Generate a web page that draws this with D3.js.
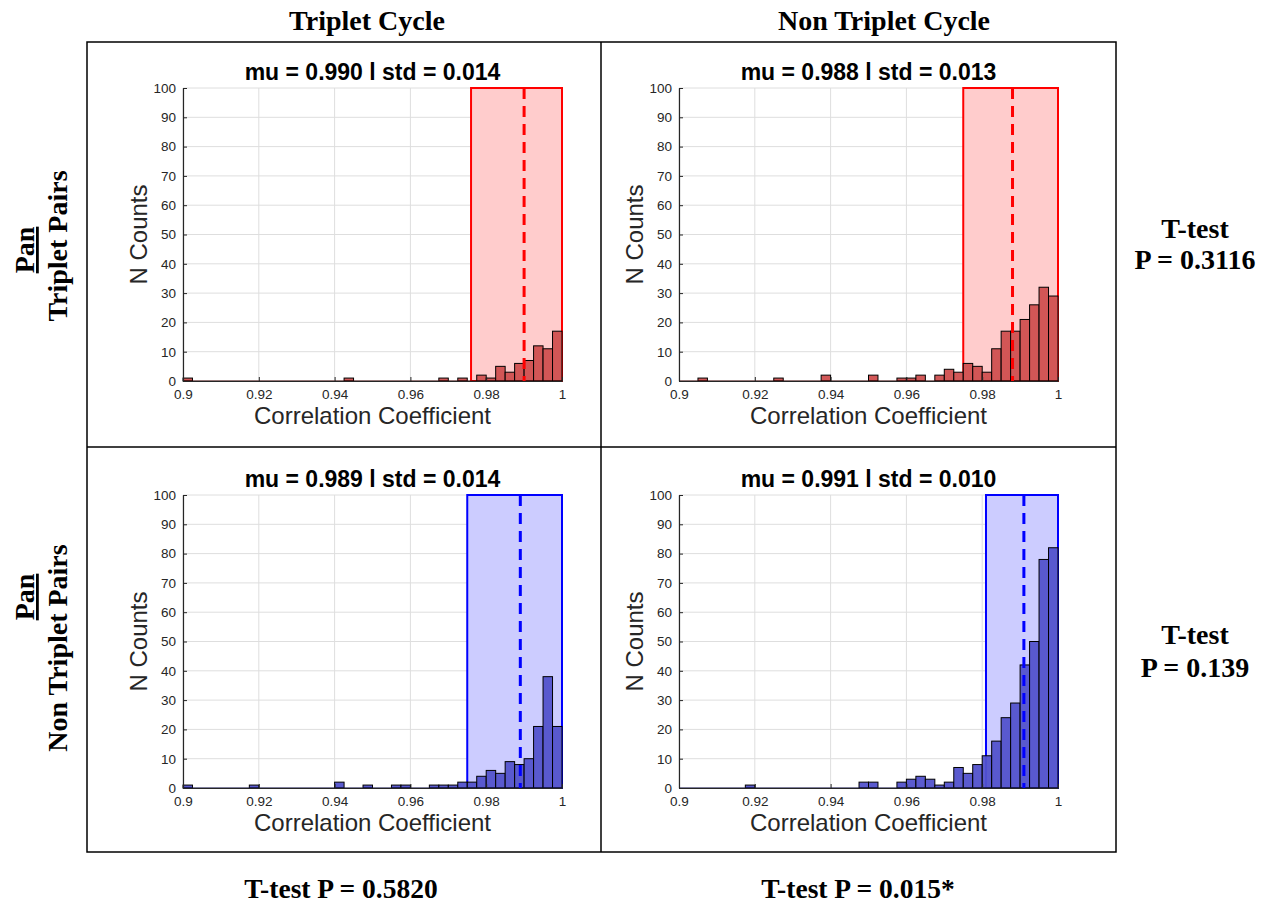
<!DOCTYPE html>
<html><head><meta charset="utf-8">
<script src="https://cdn.jsdelivr.net/npm/d3@7"></script>
<style>body{margin:0;background:#fff}svg{display:block}</style>
</head><body>
<script>
// ---- data ----
const binStart = 0.9, binWidth = 0.0025;
const countsTripletCycleTripletPairs = [1,0,0,0,0,0,0,0,0,0, 0,0,0,0,0,0,0,1,0,0, 0,0,0,0,0,0,0,1,0,1, 0,2,1,5,3,6,7,12,11,17];
const countsNonTripletCycleTripletPairs = [0,0,1,0,0,0,0,0,0,0, 1,0,0,0,0,2,0,0,0,0, 2,0,0,1,1,2,0,2,4,3, 6,5,3,11,17,17,21,26,32,29];
const countsTripletCycleNonTripletPairs = [1,0,0,0,0,0,0,1,0,0, 0,0,0,0,0,0,2,0,0,1, 0,0,1,1,0,0,1,1,1,2, 2,4,6,5,9,8,10,21,38,21];
const countsNonTripletCycleNonTripletPairs = [0,0,0,0,0,0,0,1,0,0, 0,0,0,0,0,0,0,0,0,2, 2,0,0,2,3,4,3,1,2,7, 5,8,11,16,24,29,42,50,78,82];
const means = [0.990, 0.988, 0.989, 0.991];
const stds = [0.014, 0.013, 0.014, 0.010];
const xTicks = [0.9, 0.92, 0.94, 0.96, 0.98, 1];
const xTickLabels = ["0.9","0.92","0.94","0.96","0.98","1"];
const yTicks = [0,10,20,30,40,50,60,70,80,90,100];
const columnTitles = ["Triplet Cycle", "Non Triplet Cycle"];
const rowTitlesTop = ["Pan", "Pan"];
const rowTitlesBottom = ["Triplet Pairs", "Non Triplet Pairs"];
const rowTests = [["T-test","P = 0.3116"],["T-test","P = 0.139"]];
const columnTests = ["T-test P = 0.5820", "T-test P = 0.015*"];

const W = 1267, H = 909;
const svg = d3.select("body").append("svg").attr("width", W).attr("height", H);
const serif = "'Liberation Serif','Times New Roman',serif";
const sans = "'Liberation Sans',Arial,Helvetica,sans-serif";

// frame
svg.append("rect").attr("x",87).attr("y",42).attr("width",1029).attr("height",810)
  .attr("fill","none").attr("stroke","#000").attr("stroke-width",1.5);
svg.append("line").attr("x1",601).attr("x2",601).attr("y1",42).attr("y2",852).attr("stroke","#000").attr("stroke-width",1.5);
svg.append("line").attr("x1",87).attr("x2",1116).attr("y1",447).attr("y2",447).attr("stroke","#000").attr("stroke-width",1.5);

// column titles
[367, 884].forEach((cx,i)=>{
  svg.append("text").attr("x",cx).attr("y",30).attr("text-anchor","middle")
    .attr("font-family",serif).attr("font-weight","bold").attr("font-size",28).text(columnTitles[i]);
});
// row titles
const rowPos = [{pan:250, sub:246},{pan:597, sub:648}];
rowPos.forEach((p,i)=>{
  svg.append("text").attr("transform",`translate(34,${p.pan}) rotate(-90)`).attr("text-anchor","middle")
    .attr("font-family",serif).attr("font-weight","bold").attr("font-size",28)
    .attr("text-decoration","underline").text(rowTitlesTop[i]);
  svg.append("text").attr("transform",`translate(67,${p.sub}) rotate(-90)`).attr("text-anchor","middle")
    .attr("font-family",serif).attr("font-weight","bold").attr("font-size",28).text(rowTitlesBottom[i]);
});
// right tests
[[238,269],[644,677]].forEach((ys,i)=>{
  svg.append("text").attr("x",1195).attr("y",ys[0]).attr("text-anchor","middle")
    .attr("font-family",serif).attr("font-weight","bold").attr("font-size",28).text(rowTests[i][0]);
  svg.append("text").attr("x",1195).attr("y",ys[1]).attr("text-anchor","middle")
    .attr("font-family",serif).attr("font-weight","bold").attr("font-size",28).text(rowTests[i][1]);
});
// bottom tests
[341, 858].forEach((cx,i)=>{
  svg.append("text").attr("x",cx).attr("y",898).attr("text-anchor","middle")
    .attr("font-family",serif).attr("font-weight","bold").attr("font-size",27.5).text(columnTests[i]);
});

// panels
const panels = [
  {x:183, y:88, counts:countsTripletCycleTripletPairs, c:"red"},
  {x:679, y:88, counts:countsNonTripletCycleTripletPairs, c:"red"},
  {x:183, y:495, counts:countsTripletCycleNonTripletPairs, c:"blue"},
  {x:679, y:495, counts:countsNonTripletCycleNonTripletPairs, c:"blue"}
];
const pw = 379, ph = 293;
const pal = {
  red:{bar:"#d04f4f", fill:"#ffcccc", line:"#ff0000", base:"#3a0000"},
  blue:{bar:"#5252cc", fill:"#ccccff", line:"#0000ff", base:"#10104a"}
};
const axisCol = "#262626";

panels.forEach((p,i)=>{
  const g = svg.append("g").attr("transform",`translate(${p.x},${p.y})`);
  const x = d3.scaleLinear().domain([0.9,1]).range([0,pw]);
  const y = d3.scaleLinear().domain([0,100]).range([ph,0]);
  const col = pal[p.c];
  // grid
  g.selectAll(".gx").data(xTicks).join("line").attr("x1",d=>x(d)).attr("x2",d=>x(d))
    .attr("y1",0).attr("y2",ph).attr("stroke","#dedede").attr("stroke-width",1);
  g.selectAll(".gy").data(yTicks).join("line").attr("y1",d=>y(d)).attr("y2",d=>y(d))
    .attr("x1",0).attr("x2",pw).attr("stroke","#dedede").attr("stroke-width",1);
  // shaded sd region
  const lo = means[i]-stds[i], hi = Math.min(means[i]+stds[i], 1);
  g.append("rect").attr("x",x(lo)).attr("y",y(100)).attr("width",x(hi)-x(lo)).attr("height",y(0)-y(100))
    .attr("fill",col.fill).attr("stroke",col.line).attr("stroke-width",2);
  // bars
  const bins = p.counts.map((c,k)=>({x0:binStart+k*binWidth, x1:binStart+(k+1)*binWidth, c}));
  g.selectAll(".bar").data(bins.filter(b=>b.c>0)).join("rect")
    .attr("x",d=>x(d.x0)).attr("width",d=>x(d.x1)-x(d.x0))
    .attr("y",d=>y(d.c)).attr("height",d=>y(0)-y(d.c))
    .attr("fill",col.bar).attr("fill-opacity",0.95).attr("stroke","#000").attr("stroke-width",1);
  // zero-height bins edge line
  g.append("line").attr("x1",0).attr("x2",pw).attr("y1",ph).attr("y2",ph).attr("stroke",col.base).attr("stroke-width",1.2);
  // mean dashed line
  g.append("line").attr("x1",x(means[i])).attr("x2",x(means[i])).attr("y1",y(100)).attr("y2",y(0))
    .attr("stroke",col.line).attr("stroke-width",3).attr("stroke-dasharray","11,7");
  // axes
  const xa = d3.axisBottom(x).tickValues(xTicks).tickFormat((d,j)=>xTickLabels[j]).tickSizeInner(-4).tickSizeOuter(0).tickPadding(8);
  const ya = d3.axisLeft(y).tickValues(yTicks).tickSizeInner(-4).tickSizeOuter(0).tickPadding(7);
  const gx = g.append("g").attr("transform",`translate(0,${ph})`).call(xa);
  const gy = g.append("g").call(ya);
  [gx,gy].forEach(a=>{
    a.select(".domain").attr("stroke",axisCol).attr("stroke-width",1.2);
    a.selectAll(".tick line").attr("stroke",axisCol);
    a.selectAll(".tick text").attr("fill",axisCol).attr("font-family",sans).attr("font-size",13.5);
  });
  gx.selectAll(".tick text").attr("dy","0.75em");
  // labels
  g.append("text").attr("x",pw/2).attr("y",-8).attr("text-anchor","middle").attr("font-family",sans)
    .attr("font-weight","bold").attr("font-size",23).attr("fill","#000")
    .text(`mu = ${means[i].toFixed(3)} l std = ${stds[i].toFixed(3)}`);
  g.append("text").attr("x",pw/2).attr("y",ph+43).attr("text-anchor","middle").attr("font-family",sans)
    .attr("font-size",24).attr("fill","#262626").text("Correlation Coefficient");
  g.append("text").attr("transform",`translate(-36,${ph/2}) rotate(-90)`).attr("text-anchor","middle")
    .attr("font-family",sans).attr("font-size",24).attr("fill","#262626").text("N Counts");
});
</script>
</body></html>
